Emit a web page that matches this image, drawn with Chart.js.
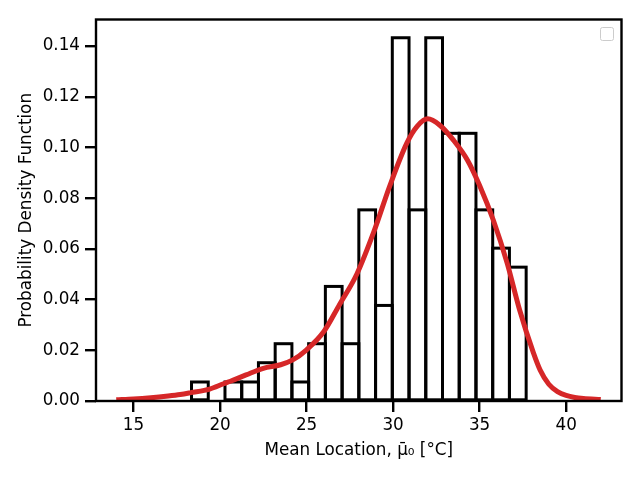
<!DOCTYPE html>
<html>
<head>
<meta charset="utf-8">
<script src="https://cdn.jsdelivr.net/npm/chart.js@4.4.0/dist/chart.umd.min.js"></script>
<style>
    html, body { margin: 0; padding: 0; background: #fff; }
    canvas { display: block; }
</style>
</head>
<body>
<canvas id="pdfChart" width="640" height="480"></canvas>
<script>
// histogram bins (edges) and density heights
const binEdges = [18.35, 19.317, 20.284, 21.251, 22.218, 23.185, 24.152, 25.119, 26.086, 27.053, 28.02,
                  28.987, 29.954, 30.921, 31.888, 32.855, 33.822, 34.789, 35.756, 36.723, 37.69];
const binDensity = [0.0075, 0, 0.0075, 0.0075, 0.0151, 0.0226, 0.0075, 0.0226, 0.0452, 0.0226,
                    0.0754, 0.0377, 0.1433, 0.0754, 0.1433, 0.1056, 0.1056, 0.0754, 0.0603, 0.0528];

// KDE curve
const kdeX = [14.0, 15.0, 16.0, 17.0, 17.7, 18.3, 19.4, 20.2, 20.6, 21.5, 22.5, 23.5, 24.2, 25.0, 26.0,
              26.9, 27.9, 28.9, 29.8, 30.8, 31.4, 32.0, 32.7, 33.5, 34.3, 35.0, 35.8, 36.6, 37.3, 38.1,
              38.5, 39.0, 39.5, 40.0, 40.5, 41.0, 42.0];
const kdeY = [0.0005, 0.0008, 0.0013, 0.0020, 0.0026, 0.0033, 0.0047, 0.0068, 0.0078, 0.0103, 0.0129,
              0.0143, 0.0162, 0.0202, 0.0274, 0.0380, 0.0500, 0.0670, 0.0847, 0.1018, 0.1084, 0.1113,
              0.1088, 0.1028, 0.0950, 0.0850, 0.0712, 0.0542, 0.0362, 0.0192, 0.0122, 0.0066, 0.0037,
              0.0022, 0.0014, 0.0010, 0.0006];

const xTicks = [15, 20, 25, 30, 35, 40];
const yTicks = [0, 0.02, 0.04, 0.06, 0.08, 0.10, 0.12, 0.14];

const FONT = "'DejaVu Sans', sans-serif";
const FONT_SIZE = 16.8;

const barData = binDensity.map((d, i) => ({ x: (binEdges[i] + binEdges[i + 1]) / 2, y: d }));
const kdeData = kdeX.map((x, i) => ({ x: x, y: kdeY[i] }));

// matplotlib style outlines: stroke centred on the bar edges
const outlinePlugin = {
    id: 'outline',
    afterDatasetDraw(chart, args) {
        if (args.meta.type !== 'bar') return;
        const ctx = chart.ctx;
        ctx.save();
        ctx.strokeStyle = '#000';
        ctx.lineWidth = 3;
        args.meta.data.forEach(bar => {
            const p = bar.getProps(['x', 'y', 'base', 'width'], true);
            if (p.base - p.y < 0.5) return;
            ctx.strokeRect(p.x - p.width / 2, p.y, p.width, p.base - p.y);
        });
        ctx.restore();
    }
};

// spines on all four sides + the empty legend box
const framePlugin = {
    id: 'frame',
    afterDatasetsDraw(chart) {
        const a = chart.chartArea;
        const ctx = chart.ctx;
        ctx.save();
        ctx.strokeStyle = '#000';
        ctx.lineWidth = 2.4;
        ctx.strokeRect(a.left, a.top, a.right - a.left, a.bottom - a.top);

        ctx.strokeStyle = '#cccccc';
        ctx.lineWidth = 1;
        ctx.fillStyle = 'rgba(255,255,255,0.8)';
        ctx.beginPath();
        ctx.roundRect(a.right - 21, a.top + 8, 13, 13, 2);
        ctx.fill();
        ctx.stroke();
        ctx.restore();
    }
};

new Chart(document.getElementById('pdfChart'), {
    data: {
        datasets: [
            {
                type: 'line',
                data: kdeData,
                borderColor: '#d62728',
                borderWidth: 5,
                pointRadius: 0,
                cubicInterpolationMode: 'monotone',
                fill: false,
                order: 0
            },
            {
                type: 'bar',
                data: barData,
                backgroundColor: 'rgba(0,0,0,0)',
                borderWidth: 0,
                barPercentage: 1,
                categoryPercentage: 1,
                order: 1
            }
        ]
    },
    options: {
        responsive: false,
        animation: false,
        layout: { padding: { top: 19.5, right: 18.5, left: 0, bottom: 0 } },
        plugins: {
            legend: { display: false },
            tooltip: { enabled: false }
        },
        scales: {
            x: {
                type: 'linear',
                offset: false,
                min: 12.83,
                max: 43.2,
                afterFit: s => { s.height = 79; },
                afterBuildTicks: s => { s.ticks = xTicks.map(v => ({ value: v })); },
                border: { display: false },
                grid: { offset: false, drawOnChartArea: false, drawTicks: true, tickLength: 11, color: '#000', lineWidth: 2.4 },
                ticks: {
                    padding: 4,
                    color: '#000',
                    font: { family: FONT, size: FONT_SIZE },
                    callback: v => String(v)
                },
                title: {
                    display: true,
                    text: 'Mean Location, μ̄₀ [°C]',
                    color: '#000',
                    font: { family: FONT, size: FONT_SIZE },
                    padding: { top: 0, bottom: 19.5 }
                }
            },
            y: {
                type: 'linear',
                min: 0,
                max: 0.1505,
                afterFit: s => { s.width = 96; },
                afterBuildTicks: s => { s.ticks = yTicks.map(v => ({ value: v })); },
                border: { display: false },
                grid: { drawOnChartArea: false, drawTicks: true, tickLength: 11, color: '#000', lineWidth: 2.4 },
                ticks: {
                    padding: 5,
                    color: '#000',
                    font: { family: FONT, size: FONT_SIZE },
                    callback: v => v.toFixed(2)
                },
                title: {
                    display: true,
                    text: 'Probability Density Function',
                    color: '#000',
                    font: { family: FONT, size: FONT_SIZE },
                    padding: { top: 17, bottom: 0 }
                }
            }
        }
    },
    plugins: [outlinePlugin, framePlugin]
});
</script>
</body>
</html>
